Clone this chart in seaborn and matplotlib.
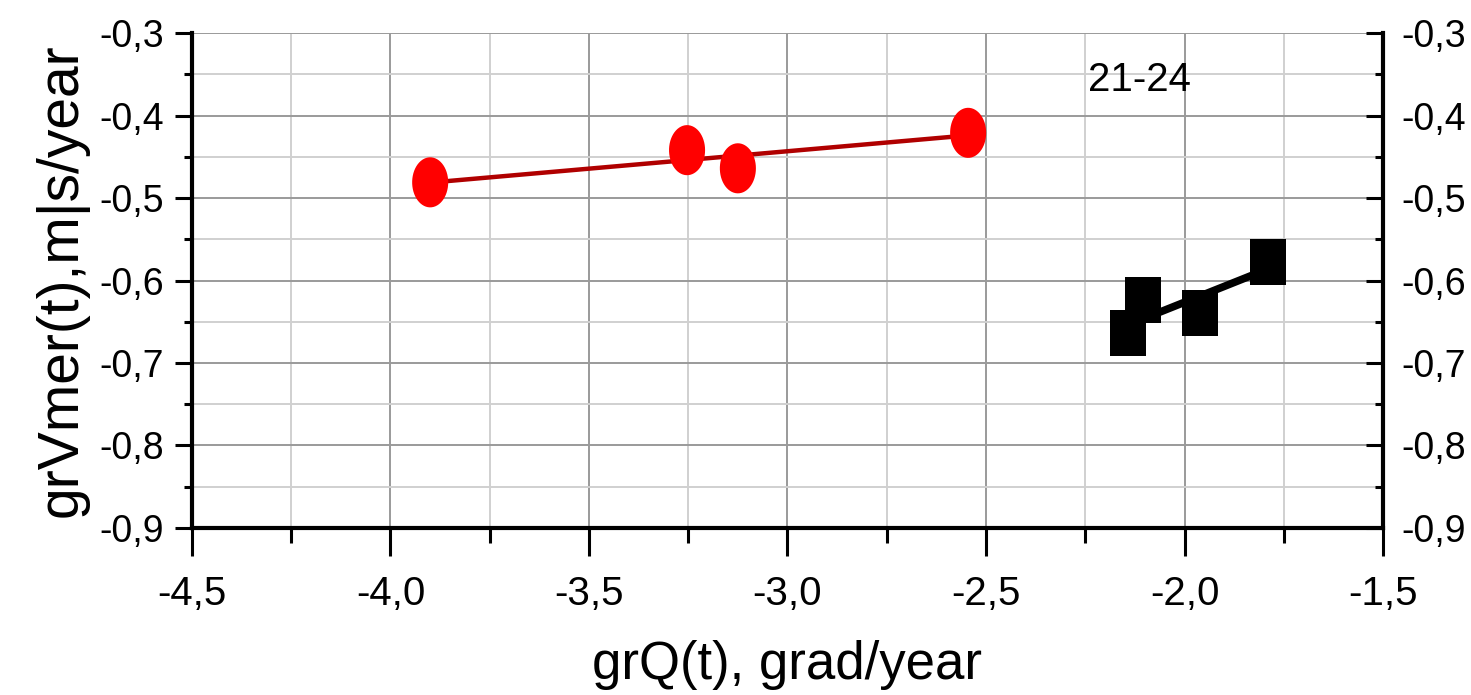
import numpy as np
import matplotlib
matplotlib.use("Agg")
import matplotlib.pyplot as plt
from matplotlib.path import Path
from matplotlib.ticker import FuncFormatter, MultipleLocator
import seaborn as sns
import pandas as pd

# ---- data ----
red_x = [-3.90, -3.253, -3.125, -2.545]
red_y = [-0.481, -0.442, -0.464, -0.421]
black_x = [-2.142, -2.105, -1.961, -1.790]
black_y = [-0.664, -0.624, -0.639, -0.578]
x_ticks = [-4.5, -4.0, -3.5, -3.0, -2.5, -2.0, -1.5]
y_ticks = [-0.9, -0.8, -0.7, -0.6, -0.5, -0.4, -0.3]
annotation = "21-24"
x_label = "grQ(t), grad/year"
y_label = "grVmer(t),m|s/year"

sns.set_style("white")
plt.rcParams['font.family'] = ['Liberation Sans', 'DejaVu Sans']
plt.rcParams.update({'text.color': 'black', 'axes.labelcolor': 'black',
                     'xtick.color': 'black', 'ytick.color': 'black'})

red_df = pd.DataFrame({"x": red_x, "y": red_y})
black_df = pd.DataFrame({"x": black_x, "y": black_y})

# custom marker shapes (tall ellipse / tall rectangle)
t = np.linspace(0, 2 * np.pi, 60)
ellipse = Path(np.column_stack([0.72 * np.cos(t), np.sin(t)]), closed=True)
rect = Path([(-0.8, -1), (0.8, -1), (0.8, 1), (-0.8, 1), (-0.8, -1)], closed=True)

fig = plt.figure(figsize=(14.71, 6.95), dpi=100)
ax = fig.add_axes([0.1305, 0.2403, 0.8097, 0.7122])

# fit lines
sns.regplot(data=red_df, x="x", y="y", ax=ax, scatter=False, ci=None, truncate=True,
            line_kws=dict(color="#b00000", lw=3.2, zorder=3))
sns.regplot(data=black_df, x="x", y="y", ax=ax, scatter=False, ci=None, truncate=True,
            line_kws=dict(color="black", lw=5.5, zorder=3))
# markers
sns.scatterplot(data=red_df, x="x", y="y", ax=ax, marker=ellipse, s=1300,
                color="#ff0000", edgecolor="none", linewidth=0, zorder=4)
sns.scatterplot(data=black_df, x="x", y="y", ax=ax, marker=rect, s=1089,
                color="black", edgecolor="none", linewidth=0, zorder=4)

ax.set_xlim(x_ticks[0], x_ticks[-1])
ax.set_ylim(y_ticks[0], y_ticks[-1])
ax.set_xticks(x_ticks)
ax.set_yticks(y_ticks)
ax.xaxis.set_minor_locator(MultipleLocator(0.25))
ax.yaxis.set_minor_locator(MultipleLocator(0.05))

fmt1 = FuncFormatter(lambda v, p: f"{v:.1f}".replace(".", ","))
ax.xaxis.set_major_formatter(fmt1)
ax.yaxis.set_major_formatter(fmt1)

ax.grid(which='major', color='#9a9a9a', lw=1.4, zorder=0)
ax.grid(which='minor', color='#d0d0d0', lw=1.4, zorder=0)
ax.set_axisbelow(True)

for s in ['left', 'bottom']:
    ax.spines[s].set_color('black')
    ax.spines[s].set_linewidth(3)
ax.spines['top'].set_visible(False)
ax.spines['right'].set_visible(False)

ax.tick_params(axis='x', which='major', direction='out', length=20, width=2.2,
               labelsize=29, pad=14, bottom=True)
ax.tick_params(axis='x', which='minor', direction='out', length=11, width=2.2, bottom=True)
ax.tick_params(axis='y', which='major', direction='out', length=12, width=2.2,
               labelsize=27, pad=8, left=True)
ax.tick_params(axis='y', which='minor', direction='out', length=6, width=2.2, left=True)

ax.set_xlabel(x_label, fontsize=38, labelpad=19)
ax.set_ylabel(y_label, fontsize=41, labelpad=8)

# right axis
ax2 = ax.twinx()
ax2.set_ylim(y_ticks[0], y_ticks[-1])
ax2.set_yticks(y_ticks)
ax2.yaxis.set_minor_locator(MultipleLocator(0.05))
ax2.yaxis.set_major_formatter(fmt1)
ax2.grid(False)
for s in ['left', 'top', 'bottom']:
    ax2.spines[s].set_visible(False)
ax2.spines['right'].set_color('black')
ax2.spines['right'].set_linewidth(3)
ax2.tick_params(axis='y', which='major', direction='in', length=12, width=2.2,
                labelsize=27, pad=13, right=True)
ax2.tick_params(axis='y', which='minor', direction='in', length=6, width=2.2, right=True)

ax.text(-2.243, -0.357, annotation, fontsize=29, ha='left', va='center', zorder=5)

fig.savefig("out.png", dpi=100)
